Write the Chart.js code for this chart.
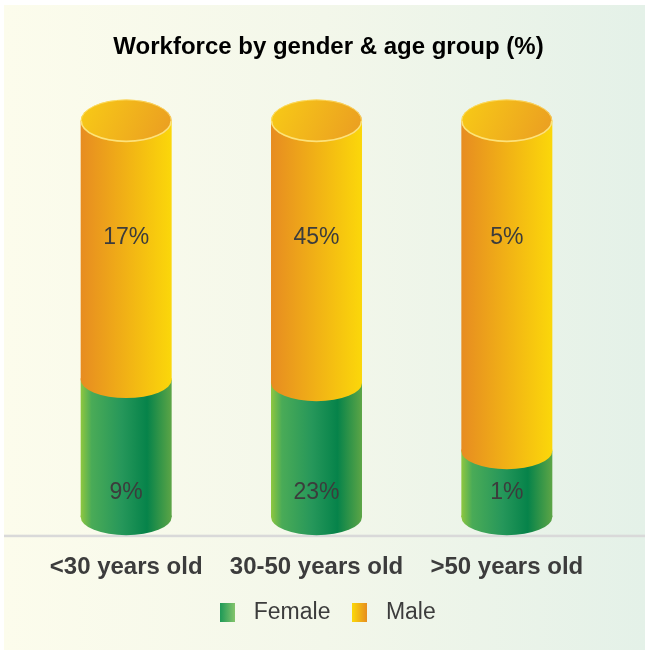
<!DOCTYPE html>
<html>
<head>
<meta charset="utf-8">
<title>Workforce by gender &amp; age group</title>
<script src="https://cdn.jsdelivr.net/npm/chart.js@4/dist/chart.umd.min.js"></script>
<style>
  html, body { margin: 0; padding: 0; background: #ffffff; }
  canvas { display: block; }
</style>
</head>
<body>
<canvas id="chart" width="645" height="652"></canvas>
<script>
// Workforce split, in % of the whole workforce
const categories = ['<30 years old', '30-50 years old', '>50 years old'];
const female = [9, 23, 1];
const male = [17, 45, 5];
const seriesNames = ['Female', 'Male'];
const titleText = 'Workforce by gender & age group (%)';

// every cylinder is a full column: each group's share inside its age band
const bandTotals = categories.map((_, i) => female[i] + male[i]);
const femaleShare = female.map((v, i) => v / bandTotals[i] * 100);
const maleShare = male.map((v, i) => v / bandTotals[i] * 100);
const rawValues = [female, male];

const FONT = "'Liberation Sans', Arial, Helvetica, sans-serif";
const TEXT = '#3c3c3c';
const CAT_PCT = 0.478;

const FEMALE_STOPS = [[0, '#8fc740'], [0.12, '#4aab57'], [0.45, '#26975a'], [0.73, '#06834a'], [1, '#5ca546']];
const MALE_STOPS = [[0, '#e78c21'], [1, '#fbd70a']];
const TOP_STOPS = [[0, '#f8cb16'], [1, '#ea9c22']];

function linear(ctx, x0, y0, x1, y1, stops) {
  const g = ctx.createLinearGradient(x0, y0, x1, y1);
  stops.forEach(([o, c]) => g.addColorStop(o, c));
  return g;
}

// horizontal shading across the bar, taken from the category scale
function sideFill(stops) {
  return (c) => {
    const chart = c.chart;
    const xs = chart.scales.x;
    if (!chart.chartArea || !xs) return stops[0][1];
    const cx = xs.getPixelForValue(c.dataIndex);
    const half = (xs.width / categories.length) * CAT_PCT / 2;
    return linear(chart.ctx, cx - half, 0, cx + half, 0, stops);
  };
}

function swatch(stops) {
  const cv = document.createElement('canvas');
  cv.width = 15; cv.height = 19;
  const g = cv.getContext('2d');
  g.fillStyle = linear(g, 0, 0, 15, 0, stops);
  g.fillRect(0, 0, 15, 19);
  return cv;
}
const legendSwatches = [
  swatch([[0, '#1f9a58'], [1, '#86c56c']]),
  swatch([[0, '#fbd70a'], [1, '#e78c21']])
];

// lower half of an ellipse, lipped upward to close the seam with the bar body
function halfCap(ctx, cx, y, rx, ry) {
  ctx.beginPath();
  ctx.moveTo(cx - rx, y - 1.5);
  ctx.lineTo(cx + rx, y - 1.5);
  ctx.lineTo(cx + rx, y);
  ctx.ellipse(cx, y, rx, ry, 0, 0, Math.PI);
  ctx.closePath();
}

// page backdrop and base line
const backdrop = {
  id: 'backdrop',
  beforeDraw(chart) {
    const { ctx, width, height } = chart;
    ctx.save();
    ctx.fillStyle = '#ffffff';
    ctx.fillRect(0, 0, width, height);
    ctx.fillStyle = linear(ctx, 4, 0, width, 0, [[0, '#fcfcec'], [0.5, '#f3f7ea'], [1, '#e4f1e8']]);
    ctx.fillRect(4, 5, width - 4, height - 7);
    ctx.restore();
  },
  beforeDatasetsDraw(chart) {
    const { ctx, width, chartArea } = chart;
    const bar = chart.getDatasetMeta(0).data[0];
    const ry = bar ? bar.width / 2 * 0.40 : 18;
    ctx.save();
    ctx.fillStyle = '#d9d9d9';
    ctx.fillRect(4, chartArea.bottom + ry - 0.5, width - 4, 2.5);
    ctx.restore();
  },
  afterLayout(chart) {
    // title and legend sit slightly right of the plot centre
    const t = chart.titleBlock;
    if (t) { t.left += 12; t.right += 12; }
    const l = chart.legend;
    if (l) { l.left += 8; l.right += 8; }
  }
};

// cylinder caps and value labels
const cylinders = {
  id: 'cylinders',
  afterDatasetsDraw(chart) {
    const ctx = chart.ctx;
    const fMeta = chart.getDatasetMeta(0);
    const mMeta = chart.getDatasetMeta(1);
    ctx.save();
    categories.forEach((_, i) => {
      const fb = fMeta.data[i];
      const mb = mMeta.data[i];
      const cx = mb.x;
      const rx = mb.width / 2;
      const ry = rx * 0.40;
      const ryTop = rx * 0.47;

      // rounded foot of the female section
      halfCap(ctx, cx, fb.base, rx, ry);
      ctx.fillStyle = linear(ctx, cx - rx, 0, cx + rx, 0, FEMALE_STOPS);
      ctx.fill();

      // rounded lower edge of the male section
      halfCap(ctx, cx, mb.base, rx, ry);
      ctx.fillStyle = linear(ctx, cx - rx, 0, cx + rx, 0, MALE_STOPS);
      ctx.fill();

      // top face
      ctx.beginPath();
      ctx.ellipse(cx, mb.y, rx, ryTop, 0, 0, Math.PI * 2);
      ctx.fillStyle = linear(ctx, cx - rx, mb.y - ryTop, cx + rx, mb.y + ryTop, TOP_STOPS);
      ctx.fill();
      ctx.lineWidth = 1;
      ctx.strokeStyle = 'rgba(255, 228, 120, 0.7)';
      ctx.beginPath();
      ctx.ellipse(cx, mb.y, rx - 0.5, ryTop - 0.5, 0, Math.PI, Math.PI * 2);
      ctx.stroke();
      ctx.lineWidth = 1.6;
      ctx.strokeStyle = '#fde27a';
      ctx.beginPath();
      ctx.ellipse(cx, mb.y, rx - 0.5, ryTop - 0.8, 0, 0, Math.PI);
      ctx.stroke();

      // values
      ctx.fillStyle = TEXT;
      ctx.font = '23px ' + FONT;
      ctx.textAlign = 'center';
      ctx.textBaseline = 'middle';
      ctx.fillText(rawValues[1][i] + '%', cx, mb.y + 117);
      ctx.fillText(rawValues[0][i] + '%', cx, fb.base - 24);
    });
    ctx.restore();
  }
};

new Chart(document.getElementById('chart'), {
  type: 'bar',
  data: {
    labels: categories,
    datasets: [
      { label: seriesNames[0], data: femaleShare, backgroundColor: sideFill(FEMALE_STOPS), borderWidth: 0 },
      { label: seriesNames[1], data: maleShare, backgroundColor: sideFill(MALE_STOPS), borderWidth: 0 }
    ]
  },
  options: {
    responsive: false,
    animation: false,
    devicePixelRatio: 1,
    datasets: { bar: { categoryPercentage: CAT_PCT, barPercentage: 1 } },
    layout: { padding: { left: 31, right: 43, top: 0, bottom: 18 } },
    scales: {
      x: {
        stacked: true,
        grid: { display: false, drawTicks: false },
        border: { display: false },
        ticks: {
          color: TEXT,
          padding: 36,
          maxRotation: 0,
          minRotation: 0,
          autoSkip: false,
          font: { family: FONT, size: 24, weight: 'bold' }
        },
        afterFit: (scale) => { scale.height = 69; }
      },
      y: { stacked: true, display: false, min: 0, max: 100 }
    },
    plugins: {
      title: {
        display: true,
        text: titleText,
        color: '#000000',
        font: { family: FONT, size: 24, weight: 'bold' },
        padding: { top: 33, bottom: 59 }
      },
      legend: {
        position: 'bottom',
        labels: {
          usePointStyle: true,
          pointStyleWidth: 29,
          padding: 15,
          color: TEXT,
          font: { family: FONT, size: 23 },
          generateLabels: (chart) => seriesNames.map((name, i) => ({
            text: name,
            fillStyle: 'transparent',
            strokeStyle: 'transparent',
            lineWidth: 0,
            pointStyle: legendSwatches[i],
            fontColor: TEXT,
            hidden: !chart.isDatasetVisible(i),
            datasetIndex: i
          }))
        }
      },
      tooltip: { enabled: false }
    }
  },
  plugins: [backdrop, cylinders]
});
</script>
</body>
</html>
